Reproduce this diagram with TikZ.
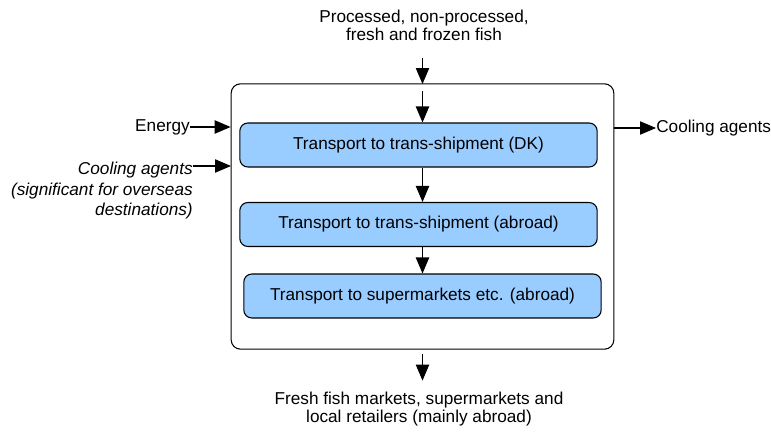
\documentclass[tikz,border=0pt]{standalone}
\usepackage{fontspec}
\setmainfont{Liberation Sans}
\usetikzlibrary{arrows.meta}
\begin{document}
\begin{tikzpicture}[x=0.75pt,y=-0.75pt,font=\fontsize{12.9}{13.5}\selectfont]
    \tikzset{block/.style= {draw,
                            rectangle,
                            rounded corners=6pt,
                            fill=blockblue,
                            line width=0.8pt,
                            align=center,
                            minimum width=268pt,
                            minimum height=33pt},
             outer/.style= {draw,
                            rectangle,
                            rounded corners=7pt,
                            line width=0.8pt,
                            minimum width=287pt,
                            minimum height=199pt},
             flow/.style=  {-{Triangle[length=12pt,width=10pt]},
                            line width=0.8pt},
            }
    \definecolor{blockblue}{HTML}{99CCFF}
    \useasboundingbox (0,0) rectangle (771,432);
    \path
    (422.5,216.5) node[outer](o) {}
    (418.5,145) node[block](b1) {Transport to trans-shipment (DK)}
    (418.5,224.5) node[block](b2) {Transport to trans-shipment (abroad)}
    (422.5,296) node[block](b3) {Transport to supermarkets etc. (abroad)}
    (424,25)    node[align=center](src) {Processed, non-processed,\\fresh and frozen fish}
    (419,409)   node[align=center](dst) {Fresh fish markets, supermarkets and\\local retailers (mainly abroad)}
    (190,127)   node[anchor=east,inner sep=0pt](en) {Energy}
    (193,162)   node[anchor=north east,inner sep=0pt,align=right,
                     font=\fontsize{12.9}{15.3}\selectfont\itshape](cl)
                     {Cooling agents\\(significant for overseas\\destinations)}
    (656,128)   node[anchor=west,inner sep=0pt](ca) {Cooling agents}
    ;
    \coordinate (cin) at (231,166);
    \draw[flow] (o.north |- src.south) ++(0,13) -- ++(0,26);
    \draw[flow] (o.north) ++(0,8) -- (o.north |- b1.north);
    \draw[flow] (b1.south -| o.north) -- (b2.north -| o.north);
    \draw[flow] (b2.south -| o.north) -- (b3.north -| o.north);
    \draw[flow,shorten <=3pt,shorten >=5pt] (o.south) -- (o.south |- dst.north);
    \draw[flow] (en.east) -- (en.east -| o.west);
    \draw[flow] (cl.north east |- cin) -- (cin);
    \draw[flow] (ca.west -| o.east) -- (ca.west);
\end{tikzpicture}
\end{document}
